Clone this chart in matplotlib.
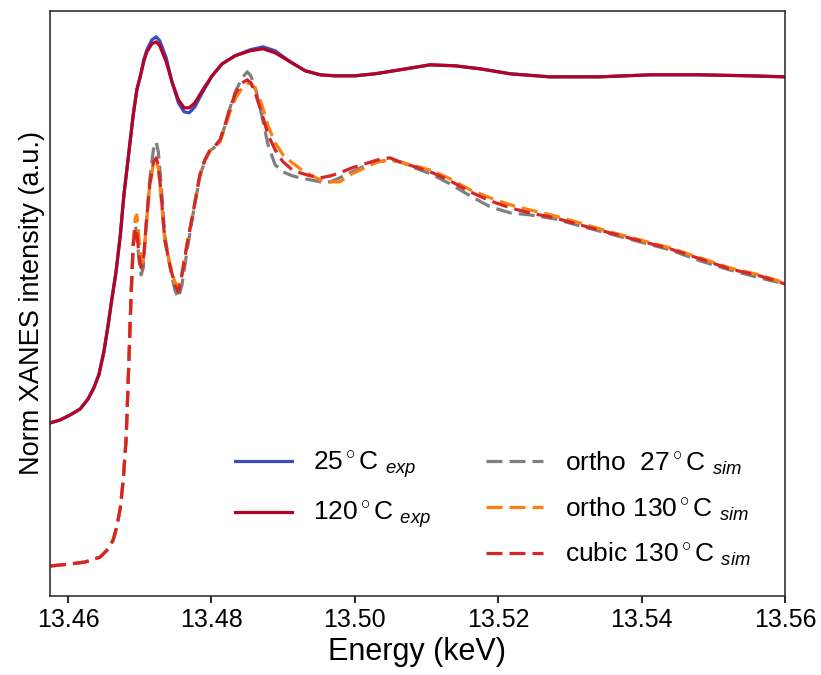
import matplotlib
matplotlib.use("Agg")
import matplotlib.pyplot as plt
from matplotlib.lines import Line2D

plt.rcParams['font.family'] = ['Liberation Sans', 'DejaVu Sans']
plt.rcParams['mathtext.fontset'] = 'custom'
plt.rcParams['mathtext.rm'] = 'Liberation Sans'
plt.rcParams['mathtext.it'] = 'Liberation Sans:italic'

# experimental spectra (normalised, arbitrary offset)
exp_energy = [13.4575, 13.4589, 13.4603, 13.4617, 13.4628, 13.4636, 13.4643, 13.4650, 13.4656, 13.4661,
              13.4667, 13.4673, 13.4678, 13.4684, 13.4691, 13.4696, 13.4701, 13.4706, 13.4710,
              13.4717, 13.4723, 13.4728, 13.4737, 13.4745, 13.4754, 13.4762, 13.4769, 13.4777, 13.4788,
              13.4801, 13.4815, 13.4833, 13.4854, 13.4872, 13.4889, 13.4910, 13.4931, 13.4952, 13.4972,
              13.5000, 13.5028, 13.5063, 13.5105, 13.5140, 13.5175, 13.5217, 13.5272, 13.5342, 13.5412,
              13.5481, 13.5551, 13.5600]
exp_25C = [0.346, 0.352, 0.362, 0.374, 0.394, 0.416, 0.442, 0.488, 0.542, 0.592,
           0.648, 0.722, 0.802, 0.876, 0.962, 1.012, 1.040, 1.074, 1.092,
           1.112, 1.118, 1.110, 1.076, 1.028, 0.986, 0.968, 0.966, 0.978, 1.008,
           1.040, 1.064, 1.080, 1.092, 1.098, 1.090, 1.068, 1.050, 1.042, 1.040,
           1.040, 1.044, 1.052, 1.062, 1.060, 1.054, 1.044, 1.038, 1.038, 1.042,
           1.042, 1.040, 1.038]
exp_120C = [0.346, 0.352, 0.362, 0.374, 0.394, 0.416, 0.442, 0.488, 0.542, 0.592,
            0.648, 0.722, 0.802, 0.876, 0.962, 1.012, 1.040, 1.070, 1.088,
            1.104, 1.108, 1.100, 1.068, 1.028, 0.992, 0.976, 0.976, 0.986, 1.012,
            1.040, 1.064, 1.080, 1.090, 1.094, 1.086, 1.068, 1.050, 1.042, 1.040,
            1.040, 1.044, 1.052, 1.062, 1.060, 1.054, 1.044, 1.038, 1.038, 1.042,
            1.042, 1.040, 1.038]

# simulated spectra
sim_energy = [13.4575, 13.4603, 13.4624, 13.4645, 13.4656, 13.4663, 13.4668, 13.4673, 13.4677, 13.4681,
              13.4685, 13.4688,
              13.4691, 13.4694, 13.4696, 13.4699, 13.4702, 13.4705, 13.4709, 13.4714, 13.4719, 13.4723,
              13.4726, 13.4730, 13.4735, 13.4742, 13.4749, 13.4754, 13.4759, 13.4766, 13.4774, 13.4784,
              13.4791, 13.4798, 13.4805, 13.4812, 13.4819, 13.4826, 13.4834, 13.4843, 13.4850, 13.4855,
              13.4862, 13.4871, 13.4879, 13.4889, 13.4900, 13.4913, 13.4924, 13.4938, 13.4952, 13.4966,
              13.4979, 13.4996, 13.5014, 13.5032, 13.5049, 13.5063, 13.5084, 13.5109, 13.5133, 13.5161,
              13.5189, 13.5217, 13.5244, 13.5279, 13.5314, 13.5356, 13.5398, 13.5440, 13.5482, 13.5523,
              13.5565, 13.5600]
sim_ortho_27C = [0.060, 0.064, 0.068, 0.078, 0.094, 0.112, 0.138, 0.176, 0.232, 0.312,
                 0.472, 0.602,
                 0.700, 0.742, 0.722, 0.672, 0.642, 0.656, 0.740, 0.832, 0.892, 0.908,
                 0.888, 0.822, 0.722, 0.660, 0.612, 0.596, 0.622, 0.690, 0.760, 0.840,
                 0.870, 0.890, 0.898, 0.910, 0.940, 0.976, 1.010, 1.036, 1.048, 1.040,
                 1.012, 0.956, 0.902, 0.862, 0.848, 0.840, 0.836, 0.832, 0.828, 0.828,
                 0.836, 0.848, 0.860, 0.868, 0.872, 0.868, 0.856, 0.842, 0.824, 0.800,
                 0.778, 0.766, 0.762, 0.754, 0.740, 0.724, 0.708, 0.692, 0.670, 0.652,
                 0.636, 0.624]
sim_ortho_130C = [0.060, 0.064, 0.068, 0.078, 0.094, 0.112, 0.138, 0.176, 0.232, 0.312,
                  0.472, 0.602,
                  0.712, 0.756, 0.762, 0.716, 0.668, 0.668, 0.740, 0.820, 0.862, 0.868,
                  0.856, 0.796, 0.712, 0.664, 0.628, 0.618, 0.646, 0.704, 0.764, 0.842,
                  0.872, 0.890, 0.898, 0.908, 0.936, 0.968, 0.996, 1.016, 1.024, 1.026,
                  1.012, 0.980, 0.940, 0.906, 0.882, 0.866, 0.854, 0.842, 0.832, 0.828,
                  0.828, 0.844, 0.856, 0.868, 0.872, 0.868, 0.860, 0.850, 0.834, 0.812,
                  0.796, 0.782, 0.772, 0.760, 0.746, 0.728, 0.712, 0.696, 0.676, 0.656,
                  0.642, 0.626]
sim_cubic_130C = [0.060, 0.064, 0.068, 0.078, 0.094, 0.112, 0.138, 0.176, 0.232, 0.312,
                  0.472, 0.602,
                  0.702, 0.736, 0.728, 0.682, 0.656, 0.668, 0.742, 0.822, 0.866, 0.876,
                  0.862, 0.802, 0.712, 0.662, 0.622, 0.608, 0.642, 0.702, 0.762, 0.842,
                  0.872, 0.892, 0.900, 0.912, 0.942, 0.976, 1.006, 1.026, 1.032, 1.026,
                  1.002, 0.962, 0.922, 0.892, 0.868, 0.852, 0.846, 0.840, 0.836, 0.840,
                  0.846, 0.856, 0.864, 0.872, 0.876, 0.868, 0.858, 0.846, 0.830, 0.808,
                  0.790, 0.776, 0.766, 0.756, 0.742, 0.726, 0.710, 0.694, 0.674, 0.654,
                  0.640, 0.624]

fig = plt.figure(figsize=(8.21, 6.75), dpi=100)
ax = fig.add_axes([0.061, 0.117, 0.895, 0.867])

dash = (5, 2.2)
ax.plot(exp_energy, exp_25C, color='#3b4cc0', lw=2.3, label=r'25$^\circ$C $_{exp}$')
ax.plot(exp_energy, exp_120C, color='#b40426', lw=2.3, label=r'120$^\circ$C $_{exp}$')
blank = Line2D([], [], color='none')
ax.plot(sim_energy, sim_ortho_27C, color='tab:gray', lw=2.3, ls='--', dashes=dash,
        label=r'ortho  27$^\circ$C $_{sim}$')
ax.plot(sim_energy, sim_ortho_130C, color='tab:orange', lw=2.3, ls='--', dashes=dash,
        label=r'ortho 130$^\circ$C $_{sim}$')
ax.plot(sim_energy, sim_cubic_130C, color='tab:red', lw=2.3, ls='--', dashes=dash,
        label=r'cubic 130$^\circ$C $_{sim}$')

ax.set_xlim(13.4575, 13.56)
ax.set_ylim(0, 1.17)
ax.set_xticks([13.46, 13.48, 13.50, 13.52, 13.54, 13.56])
ax.set_yticks([])
ax.tick_params(axis='x', labelsize=18, length=5, width=1.2)
for s in ax.spines.values():
    s.set_linewidth(1.2)
    s.set_color('#333333')
ax.set_xlabel('Energy (keV)', fontsize=22)
ax.set_ylabel('Norm XANES intensity (a.u.)', fontsize=19.5, labelpad=4)

h, l = ax.get_legend_handles_labels()
handles = [h[0], h[1], blank, h[2], h[3], h[4]]
labels = [l[0], l[1], '', l[2], l[3], l[4]]
ax.legend(handles, labels, ncol=2, frameon=False, fontsize=19, loc='lower left',
          bbox_to_anchor=(0.219, -0.004), handlelength=2.16, handletextpad=0.8,
          columnspacing=2.1, labelspacing=0.7, borderpad=0.4)

fig.savefig('out.png', dpi=100)
